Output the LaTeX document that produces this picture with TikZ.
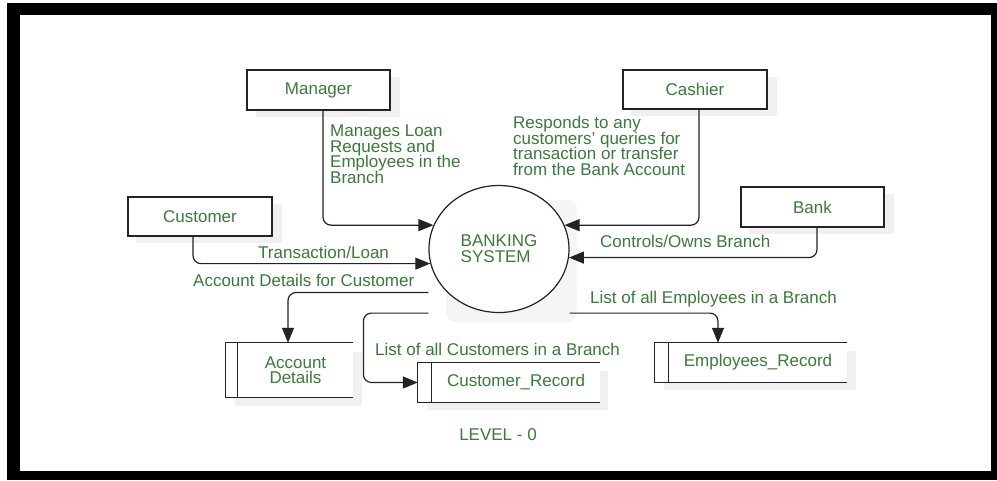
\documentclass[tikz,border=0pt]{standalone}
\usepackage{fontspec}
\setmainfont{Liberation Sans}
\usetikzlibrary{arrows.meta,shapes.geometric,calc}
\definecolor{lblc}{RGB}{58,122,58}
\definecolor{ln}{RGB}{35,35,35}
\definecolor{shd}{RGB}{240,240,240}
\definecolor{shdl}{RGB}{245,245,245}
\newcommand\dfdfont{\fontsize{17}{15.5}\selectfont\lineskiplimit -20pt\relax}
\newcommand\dfdsysfont{\fontsize{17}{16}\selectfont\lineskiplimit -20pt\relax}
\begin{document}
\begin{tikzpicture}[x=1pt,y=-1pt,
  every node/.style={font=\dfdfont, inner sep=0pt},
  lbl/.style={text=lblc, align=left},
  ent/.style={draw=ln, line width=1.2pt, fill=white, text=lblc},
  store/.style={text=lblc, align=center},
  flow/.style={draw=ln, line width=1.2pt, -{Triangle[length=15pt,width=12pt,sharp]}},
  plain/.style={draw=ln, line width=1.2pt},
  shadowbox/.style={fill=shd}
]
% frame
\useasboundingbox (0,0) rectangle (997,480);
\fill[white] (0,0) rectangle (997,480);
\fill[black] (7,3) rectangle (997,480);
\fill[white] (20,15) rectangle (991,471);

% shadows
\fill[shadowbox] (256,77) rectangle (400,117);
\fill[shadowbox] (631,77) rectangle (777,116);
\fill[shadowbox] (136,204) rectangle (282,243);
\fill[shadowbox] (749,194) rectangle (894,234);
\fill[shdl, rounded corners=10pt] (446,200) rectangle (577,322);
\fill[shadowbox] (235,352) rectangle (362,406);
\fill[shadowbox] (428,371) rectangle (608,410);
\fill[shadowbox] (664,351) rectangle (856,390);

% external entities
\node[ent, minimum width=143pt, minimum height=40pt] (mgr) at (318.5,90) {Manager};
\node[ent, minimum width=144pt, minimum height=39pt] (cash) at (695,89.5) {Cashier};
\node[ent, minimum width=144pt, minimum height=39pt] (cust) at (200,216.5) {Customer};
\node[ent, minimum width=143pt, minimum height=40pt] (bank) at (812.5,207) {Bank};

% process
\node[ellipse, draw=ln, line width=1.2pt, fill=white, text=lblc, align=left,
      minimum width=140pt, minimum height=127pt, font=\dfdsysfont]
      (sys) at (499,249) {BANKING\\SYSTEM};
\coordinate (sw) at (sys.south -| sys.west);
\coordinate (se) at (sys.south -| sys.east);

% data stores
\node[store, minimum width=115pt, minimum height=54pt, fill=white] (ad) at (295.5,370) {Account\\Details};
\node[store, minimum width=168pt, minimum height=39pt, fill=white] (cr) at (516,382.5) {Customer\_Record};
\node[store, minimum width=178pt, minimum height=39pt, fill=white] (er) at (758,362.5) {Employees\_Record};
\foreach \s/\w in {ad/12pt, cr/14pt, er/14pt}{
  \fill[white] ([xshift=-\w]\s.north west) rectangle (\s.south west);
  \draw[plain] (\s.north east) -- ([xshift=-\w]\s.north west) -- ([xshift=-\w]\s.south west) -- (\s.south east);
  \draw[plain] (\s.north west) -- (\s.south west);
}

% flows into the system
\draw[flow] ([xshift=4.5pt]mgr.south) [rounded corners=8pt] |- (sys.160);
\draw[flow] ([xshift=-7pt]cust.south) [rounded corners=8pt] |- (sys.192);
\draw[flow] ([xshift=4pt]cash.south) [rounded corners=8pt] |- (sys.20);
\draw[flow] ([xshift=4.5pt]bank.south) [rounded corners=8pt] |- (sys.353);

% flows out of the system
\draw[flow] ([yshift=-43.5pt]sys.west) [rounded corners=8pt] -| ([xshift=-7.5pt]ad.north);
\draw[flow] (sw) [rounded corners=8pt] -- ++(-65,0) |- ([xshift=-14pt]cr.west);
\draw[flow] (se) [rounded corners=8pt] -| ([xshift=-40pt]er.north);

% labels
\node[lbl, anchor=north west] (l1) at (330,125) {Manages Loan\\Requests and\\Employees in the\\Branch};
\node[lbl, anchor=north west] (l2) at (513,116) {Responds to any\\customers' queries for\\transaction or transfer\\from the Bank Account};
\node[lbl, anchor=west] (l3) at (258,252) {Transaction/Loan};
\node[lbl, anchor=west] (l4) at (193,280) {Account Details for Customer};
\node[lbl, anchor=west] (l5) at (600,241) {Controls/Owns Branch};
\node[lbl, anchor=west] (l6) at (590,299) {List of all Employees in a Branch};
\node[lbl, anchor=west] (l7) at (375,349) {List of all Customers in a Branch};
\node[lbl] (lev) at (498,435) {LEVEL - 0};
\end{tikzpicture}
\end{document}
